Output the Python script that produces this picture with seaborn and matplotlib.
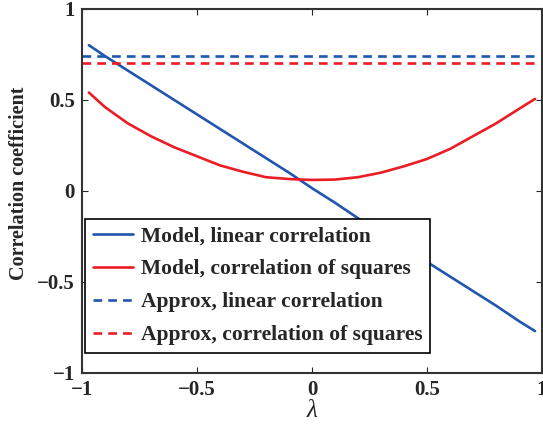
import matplotlib
matplotlib.use("Agg")
import matplotlib.pyplot as plt
import seaborn as sns
import pandas as pd

# lambda grid
lam = [-0.97, -0.9, -0.8, -0.7, -0.6, -0.5, -0.4, -0.3, -0.2, -0.1, 0.0,
       0.1, 0.2, 0.3, 0.4, 0.5, 0.6, 0.7, 0.8, 0.9, 0.97]
model_linear = [0.80, 0.74, 0.66, 0.58, 0.50, 0.42, 0.34, 0.26, 0.18, 0.10, 0.015,
                -0.065, -0.15, -0.23, -0.31, -0.39, -0.47, -0.55, -0.63, -0.715, -0.77]
model_squares = [0.54, 0.46, 0.37, 0.30, 0.24, 0.19, 0.14, 0.105, 0.075, 0.065, 0.06,
                 0.062, 0.075, 0.10, 0.135, 0.175, 0.23, 0.30, 0.37, 0.45, 0.505]
approx_lam = [-1.0, 0.98]
approx_linear = [0.74, 0.74]
approx_squares = [0.70, 0.70]

labels = ["Model, linear correlation", "Model, correlation of squares",
          "Approx, linear correlation", "Approx, correlation of squares"]

blue = "#2156b0"
red = "#ec1c24"

sns.set_style("ticks")
plt.rcParams["font.family"] = ["Liberation Serif", "DejaVu Serif"]
plt.rcParams["font.weight"] = "bold"

fig = plt.figure(figsize=(5.43, 4.25), dpi=100)
ax = fig.add_axes([0.151, 0.1224, 0.847, 0.857])

df_model = pd.DataFrame({"lam": lam, "lin": model_linear, "sq": model_squares})
df_approx = pd.DataFrame({"lam": approx_lam, "lin": approx_linear, "sq": approx_squares})

sns.lineplot(data=df_model, x="lam", y="lin", ax=ax, color=blue, lw=1.9, label=labels[0])
sns.lineplot(data=df_model, x="lam", y="sq", ax=ax, color=red, lw=1.9, label=labels[1])
sns.lineplot(data=df_approx, x="lam", y="lin", ax=ax, color=blue, lw=1.9,
             linestyle=(0, (3.3, 2.3)), label=labels[2])
sns.lineplot(data=df_approx, x="lam", y="sq", ax=ax, color=red, lw=1.9,
             linestyle=(0, (3.3, 2.3)), label=labels[3])

ax.set_xlim(-1, 1)
ax.set_ylim(-1, 1)
ax.set_xticks([-1, -0.5, 0, 0.5, 1])
ax.set_yticks([-1, -0.5, 0, 0.5, 1])
ax.set_xticklabels(["\u22121", "\u22120.5", "0", "0.5", "1"])
ax.set_yticklabels(["\u22121", "\u22120.5", "0", "0.5", "1"])
ax.tick_params(direction="in", top=True, right=True, labelsize=15, length=4, width=0.8, pad=5)
for sp in ax.spines.values():
    sp.set_linewidth(1.5)
    sp.set_color("#333333")

ax.set_xlabel("\u03bb", fontsize=18, fontstyle="italic", fontweight="normal", labelpad=0)
ax.set_ylabel("Correlation coefficient", fontsize=14.5, fontweight="bold")
ax.yaxis.set_label_coords(-0.115, 0.52)

leg = ax.legend(loc="lower left", bbox_to_anchor=(0.0065, 0.055), borderaxespad=0,
                fontsize=15.5, frameon=True, fancybox=False, framealpha=1,
                edgecolor="black", handlelength=1.9, borderpad=0.35,
                labelspacing=0.6, handletextpad=0.35)
leg.get_frame().set_linewidth(1.2)
for t in leg.get_texts():
    t.set_fontweight("bold")

fig.savefig("out.png", dpi=100)
